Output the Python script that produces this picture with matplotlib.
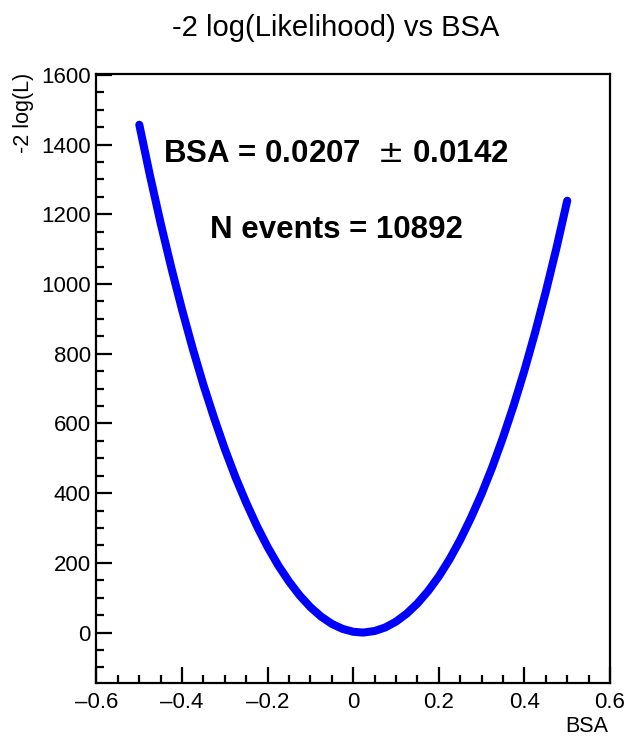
import matplotlib.pyplot as plt
import matplotlib as mpl
import numpy as np
from matplotlib.ticker import MultipleLocator

# likelihood scan, read at steps of 0.025 in BSA (plus the fitted minimum)
bsa = [-0.500, -0.475, -0.450, -0.425, -0.400, -0.375, -0.350, -0.325, -0.300,
       -0.275, -0.250, -0.225, -0.200, -0.175, -0.150, -0.125, -0.100, -0.075,
       -0.050, -0.025, 0.000, 0.0207, 0.025, 0.050, 0.075, 0.100, 0.125, 0.150,
       0.175, 0.200, 0.225, 0.250, 0.275, 0.300, 0.325, 0.350, 0.375, 0.400,
       0.425, 0.450, 0.475, 0.500]
m2logL = [1457, 1311, 1174, 1046, 926, 814, 710, 615, 526,
          445, 372, 305, 245, 192, 146, 106, 72.6, 45.5,
          24.8, 10.4, 2.1, 0.0, 0.1, 4.3, 14.6, 31.3, 54.2, 83.4,
          119, 161, 210, 266, 329, 398, 475, 560, 652, 752,
          861, 978, 1104, 1239]

bsa_fit = 0.0207
bsa_err = 0.0142
n_events = 10892

title = '-2 log(Likelihood) vs BSA'
xlabel = 'BSA'
ylabel = '-2 log(L)'

mpl.rcParams['font.family'] = ['Liberation Sans', 'DejaVu Sans']
mpl.rcParams['axes.unicode_minus'] = True

fig = plt.figure(figsize=(6.27, 7.39), dpi=100)
ax = fig.add_axes((0.1539, 0.0754, 0.819, 0.8245))

ax.plot(bsa, m2logL, color='#0000ff', lw=5.8,
        solid_capstyle='round', solid_joinstyle='round')

ax.set_xlim(-0.6, 0.6)
ymax = max(m2logL)
ax.set_ylim(-0.1 * ymax, 1.1 * ymax)

ax.xaxis.set_major_locator(MultipleLocator(0.2))
ax.xaxis.set_minor_locator(MultipleLocator(0.05))
ax.yaxis.set_major_locator(MultipleLocator(200))
ax.yaxis.set_minor_locator(MultipleLocator(50))
ax.xaxis.set_major_formatter(mpl.ticker.FuncFormatter(
    lambda v, p: '0' if abs(v) < 1e-9 else ('%.1f' % v).replace('-', '\u2013')))

ax.tick_params(which='both', direction='in', top=False, right=False,
               width=1.6, labelsize=16, colors='black')
ax.tick_params(axis='y', which='major', length=11.5, pad=4)
ax.tick_params(axis='y', which='minor', length=5.8)
ax.tick_params(axis='x', which='major', length=11.5, pad=6)
ax.tick_params(axis='x', which='minor', length=5.8)
for s in ax.spines.values():
    s.set_linewidth(1.6)

fig.text(0.536, 0.962, title, ha='center', va='center', fontsize=21)
fig.text(0.970, 0.0095, xlabel, ha='right', va='baseline', fontsize=15.5)
fig.text(0.037, 0.901, ylabel, ha='center', va='top', rotation=90, fontsize=15.5)

fig.text(0.536, 0.7812, 'BSA = %.4f  $\\pm$ %.4f' % (bsa_fit, bsa_err),
         ha='center', va='baseline', fontsize=22.5, fontweight='bold')
fig.text(0.536, 0.678, 'N events = %d' % n_events,
         ha='center', va='baseline', fontsize=22.5, fontweight='bold')

fig.savefig('out.png', dpi=100)
